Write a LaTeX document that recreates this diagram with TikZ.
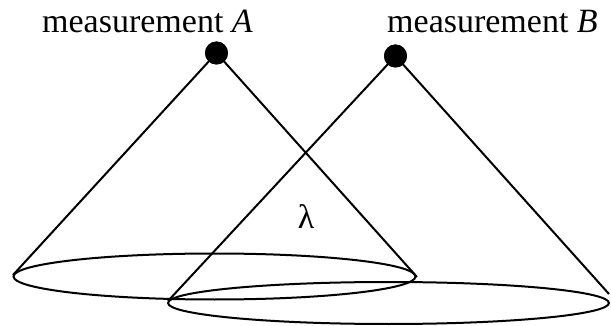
\documentclass[tikz,border=0pt]{standalone}
\usepackage{fontspec}
\setmainfont{Liberation Serif}
\usetikzlibrary{shapes.geometric}
\begin{document}
\begin{tikzpicture}[x=1pt,y=-1pt,
  lbl/.style={inner sep=0pt,anchor=base west,font=\fontsize{34}{40}\selectfont},
  dot/.style={circle,fill=black,inner sep=0pt,minimum size=23pt},
  disc/.style={ellipse,draw=black,line width=2pt,inner sep=0pt},
  cone/.style={line width=2pt}]
\useasboundingbox (0,0) rectangle (611,326);
% base ellipses
\node[disc,minimum width=402pt,minimum height=46pt] (E1) at (214.5,276.5) {};
\node[disc,minimum width=441pt,minimum height=42pt] (E2) at (388.5,303) {};
% cone edge end points
\coordinate (A1) at (13,275);
\coordinate (A2) at (417,277);
\coordinate (B1) at (168,301);
\coordinate (B2) at (609,294);
% apex dots
\node[dot] (A) at (216.5,53) {};
\node[dot] (B) at (395.5,56) {};
\draw[cone] (A.center) -- (A1);
\draw[cone] (A.center) -- (A2);
\draw[cone] (B.center) -- (B1);
\draw[cone] (B.center) -- (B2);
\node[dot] at (A) {};
\node[dot] at (B) {};
% labels
\node[lbl] (LA) at (42,33) {measurement \textit{A}};
\node[lbl] (LB) at (387,33) {measurement \textit{B}};
\node[inner sep=0pt,font=\fontsize{34}{40}\selectfont] (L) at (306,217) {λ};
\end{tikzpicture}
\end{document}
